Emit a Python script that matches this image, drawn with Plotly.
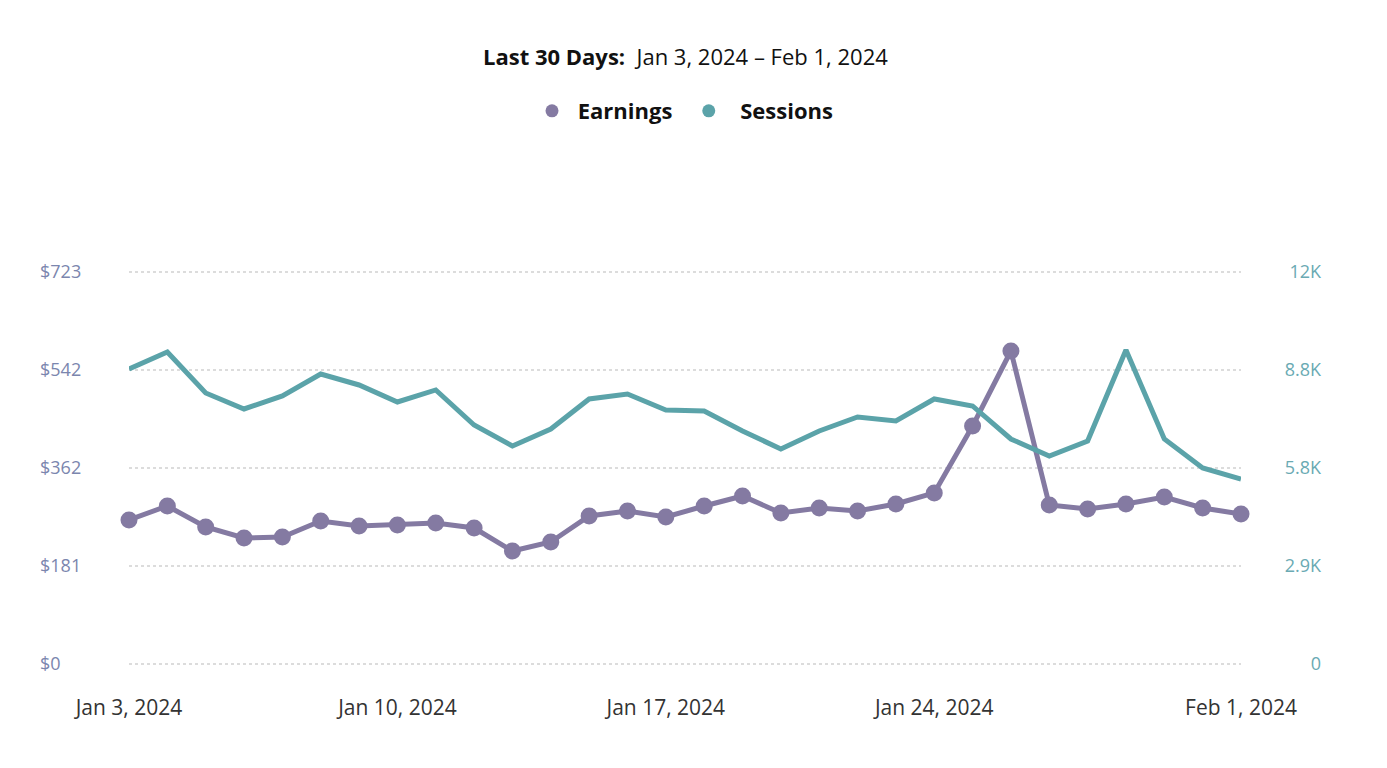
import plotly.graph_objects as go
import pandas as pd

dates = pd.date_range("2024-01-03", "2024-02-01", freq="D")

earnings = [265.6, 291.4, 252.7, 232.4, 234.2, 263.7, 254.5, 256.4, 260.0, 250.8,
            208.4, 225.0, 273.0, 282.2, 271.1, 291.4, 309.9, 278.5, 287.7, 282.2,
            295.1, 315.4, 439.0, 577.3, 293.3, 285.9, 295.1, 308.0, 287.7, 276.7]

sessions = [8806, 9313, 8089, 7612, 8000, 8656, 8328, 7821, 8179, 7134,
            6507, 7015, 7910, 8059, 7582, 7552, 6955, 6417, 6955, 7373,
            7253, 7910, 7701, 6716, 6209, 6656, 9373, 6716, 5851, 5522]

earn_ticks = [0, 180.75, 361.5, 542.25, 723]
earn_labels = ["$0", "$181", "$362", "$542", "$723"]
sess_ticks = [0, 2925, 5850, 8775, 11700]
sess_labels = ["0", "2.9K", "5.8K", "8.8K", "12K"]
x_ticks = ["2024-01-03", "2024-01-10", "2024-01-17", "2024-01-24", "2024-02-01"]
x_labels = ["Jan 3, 2024", "Jan 10, 2024", "Jan 17, 2024", "Jan 24, 2024", "Feb 1, 2024"]

PURPLE = "#847aa2"
TEAL = "#5ba3a9"
FONT = "Open Sans"

# gridded band is 392px tall; pad the plot area so the edge tick labels
# (drawn "inside" and pushed out) are not hidden
BAND = 392
PADPX = 14
PAD = PADPX / BAND

fig = go.Figure()

fig.add_trace(go.Scatter(
    x=dates, y=sessions, yaxis="y2", mode="lines",
    line=dict(color=TEAL, width=5), showlegend=False, cliponaxis=False,
))
fig.add_trace(go.Scatter(
    x=dates, y=earnings, mode="lines+markers",
    line=dict(color=PURPLE, width=5), marker=dict(size=17, color=PURPLE),
    showlegend=False, cliponaxis=False,
))

# legend entries drawn as plain dots
fig.add_trace(go.Scatter(x=[None], y=[None], mode="markers",
                         name="&nbsp;Earnings&nbsp;&nbsp;",
                         marker=dict(size=13, color=PURPLE)))
fig.add_trace(go.Scatter(x=[None], y=[None], mode="markers",
                         name="&nbsp;&nbsp;Sessions",
                         marker=dict(size=13, color=TEAL)))

fig.update_layout(
    width=1387, height=768,
    margin=dict(l=121, r=154, t=264 - PADPX, b=112 - PADPX),
    plot_bgcolor="white", paper_bgcolor="white",
    font=dict(family=FONT, size=18, color="#333"),
    legend=dict(orientation="h", x=0.5, xanchor="center", y=1 - 82 / 768,
                yanchor="top", yref="container", xref="paper",
                font=dict(size=22, color="#111", weight="bold"),
                itemwidth=30, traceorder="normal"),
    xaxis=dict(
        type="date",
        range=["2024-01-03", "2024-02-01"],
        tickvals=x_ticks, ticktext=x_labels,
        showgrid=False, zeroline=False, showline=False,
        ticks="", ticklabelstandoff=29 - PADPX,
        tickfont=dict(size=21, color="#333"),
    ),
    yaxis=dict(
        range=[-723 * PAD, 723 * (1 + PAD)], tickvals=earn_ticks, ticktext=earn_labels,
        showgrid=True, gridcolor="#dcdcdc", griddash="dot", gridwidth=2,
        zeroline=False, showline=False, ticks="",
        ticklabelposition="inside", ticklabelstandoff=-92,
        tickfont=dict(size=18, color="#7b86ae"),
    ),
    yaxis2=dict(
        range=[-11700 * PAD, 11700 * (1 + PAD)], tickvals=sess_ticks, ticktext=sess_labels,
        overlaying="y", side="right", showgrid=False, zeroline=False,
        showline=False, ticks="",
        ticklabelposition="inside", ticklabelstandoff=-83,
        tickfont=dict(size=18, color="#6aaab3"),
    ),
    annotations=[dict(
        text="<b>Last 30 Days:</b>&nbsp; Jan 3, 2024 – Feb 1, 2024",
        x=0.5, xref="paper", xanchor="center",
        y=1 + (264 - 62) / (BAND + 2 * PADPX), yref="paper", yanchor="middle",
        showarrow=False,
        font=dict(size=22, color="#111"),
    )],
)

fig.write_html("out.html")
